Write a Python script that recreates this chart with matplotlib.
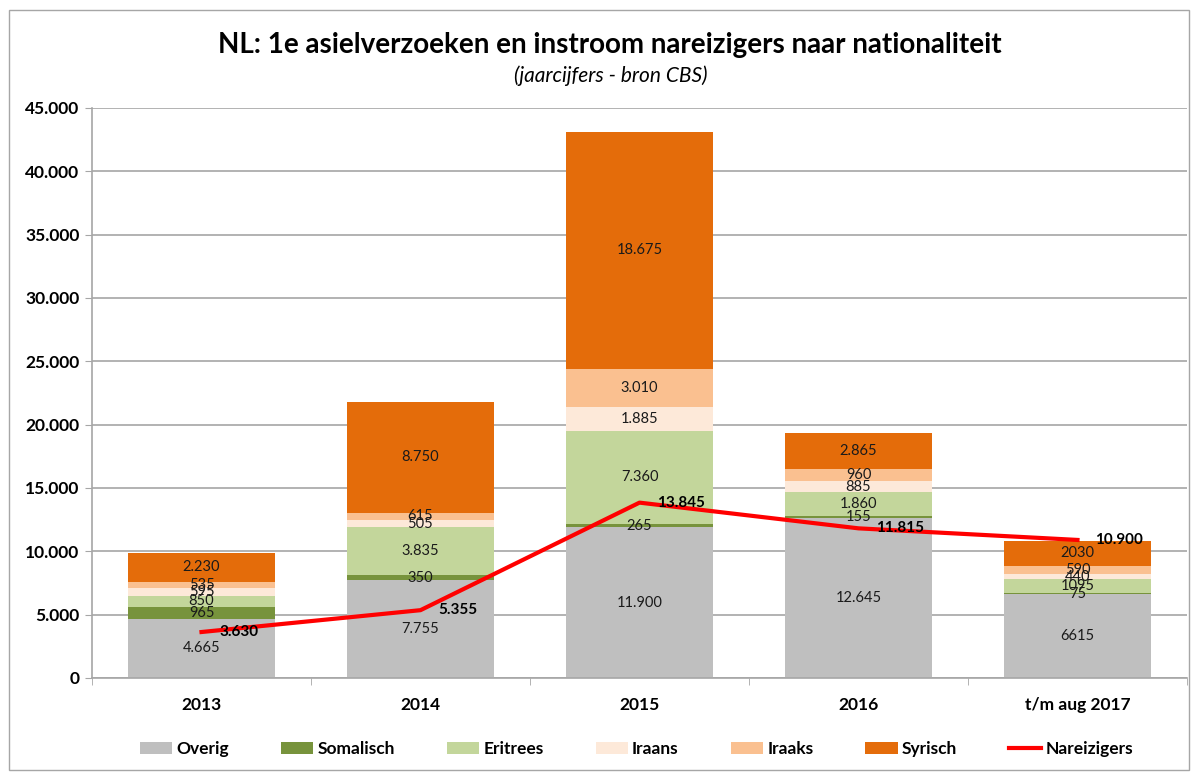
import matplotlib
matplotlib.use('Agg')
import matplotlib.pyplot as plt
import numpy as np
from matplotlib.patches import Rectangle

plt.rcParams['font.family'] = ['Lato', 'DejaVu Sans']

years = ['2013', '2014', '2015', '2016', 't/m aug 2017']
overig = [4665, 7755, 11900, 12645, 6615]
somalisch = [965, 350, 265, 155, 75]
eritrees = [850, 3835, 7360, 1860, 1095]
iraans = [595, 505, 1885, 885, 440]
iraaks = [535, 615, 3010, 960, 590]
syrisch = [2230, 8750, 18675, 2865, 2030]
nareizigers = [3630, 5355, 13845, 11815, 10900]
# the 2017 figures in the source are written without thousands separator
dotted = [True, True, True, True, False]

series = [('Overig', overig, '#bfbfbf'),
          ('Somalisch', somalisch, '#77933c'),
          ('Eritrees', eritrees, '#c3d69b'),
          ('Iraans', iraans, '#fde9d9'),
          ('Iraaks', iraaks, '#fac090'),
          ('Syrisch', syrisch, '#e46c0a')]


def fmt(v, dot=True):
    s = f'{v:,}'
    return s.replace(',', '.') if dot else s.replace(',', '')


fig = plt.figure(figsize=(11.92, 7.76), dpi=100)
fig.patches.append(Rectangle((9 / 1192, 6 / 776), 1180 / 1192, 760 / 776,
                             transform=fig.transFigure, fill=False,
                             edgecolor='#a6a6a6', linewidth=1))
ax = fig.add_axes([92 / 1192, 1 - 678 / 776, 1095 / 1192, 570 / 776])

x = np.arange(len(years))
bottom = np.zeros(len(years))
handles = []
for name, vals, col in series:
    vals = np.array(vals)
    h = ax.bar(x, vals, 0.667, bottom=bottom, color=col, label=name, zorder=2)
    handles.append(h)
    for i, v in enumerate(vals):
        ax.text(x[i], bottom[i] + v / 2, fmt(v, dotted[i]), ha='center',
                va='center', fontsize=10.5, color='#1a1a1a', zorder=4)
    bottom += vals

line, = ax.plot(x, nareizigers, color='#ff0000', linewidth=3,
                label='Nareizigers', zorder=3)
handles.append(line)
for i, v in enumerate(nareizigers):
    ax.text(x[i] + 0.08, v, fmt(v), ha='left', va='center', fontsize=11,
            fontweight='bold', zorder=5)

ax.set_xlim(-0.5, len(years) - 0.5)
ax.set_ylim(0, 45000)
ax.set_yticks(np.arange(0, 45001, 5000))
ax.set_yticklabels([fmt(int(t)) for t in np.arange(0, 45001, 5000)],
                   fontsize=12.5, fontweight='bold')
ax.yaxis.grid(True, color='#a6a6a6', linewidth=1.2, zorder=0)
ax.set_axisbelow(True)
ax.set_xticks(x)
ax.set_xticklabels(years, fontsize=12.5, fontweight='bold')
ax.tick_params(axis='x', length=0, pad=14)
ax.set_xticks(np.arange(-0.5, len(years)), minor=True)
ax.tick_params(axis='x', which='minor', length=5, color='#a6a6a6')
ax.tick_params(axis='y', length=5, color='#a6a6a6', pad=4)
for s in ['top', 'right']:
    ax.spines[s].set_visible(False)
for s in ['left', 'bottom']:
    ax.spines[s].set_color('#a6a6a6')
    ax.spines[s].set_linewidth(1.2)

fig.text(0.512, 1 - 45 / 776, 'NL: 1e asielverzoeken en instroom nareizigers naar nationaliteit',
         ha='center', va='center', fontsize=20, fontweight='bold')
fig.text(0.512, 1 - 76 / 776, '(jaarcijfers - bron CBS)', ha='center',
         va='center', fontsize=15, fontstyle='italic')

fig.legend(handles=handles, loc='center', bbox_to_anchor=(0.534, 1 - 749 / 776),
           ncol=7, frameon=False, handlelength=1.85, handleheight=0.65,
           columnspacing=3.0, handletextpad=0.25,
           prop={'weight': 'bold', 'size': 12.5})

fig.savefig('out.png', dpi=100)
